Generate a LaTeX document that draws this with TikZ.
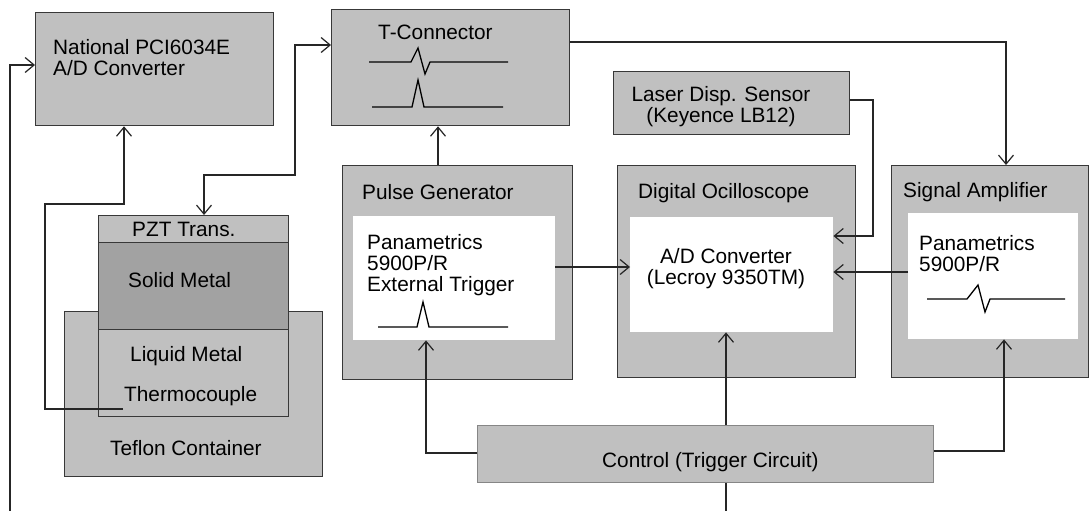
\documentclass[tikz,border=0pt]{standalone}
\usepackage{fontspec}
\setmainfont{Liberation Sans}
\usetikzlibrary{arrows.meta}
\definecolor{boxg}{HTML}{C0C0C0}
\definecolor{darkg}{HTML}{A2A2A2}
\definecolor{edgeg}{HTML}{383838}
\definecolor{lineg}{HTML}{262626}
\tikzset{
  box/.style={draw=edgeg, line width=1.3pt, fill=boxg, inner sep=0pt, anchor=north west},
  inbox/.style={fill=white, draw=none, inner sep=0pt, anchor=north west},
  txt/.style={inner sep=0pt, anchor=north west, align=left, font=\fontsize{20.8}{21}\selectfont},
  ctxt/.style={inner sep=0pt, anchor=north, align=center, font=\fontsize{20.8}{21}\selectfont},
  conn/.style={draw=lineg, line width=1.2pt, arrows={-Straight Barb[length=9pt,width=15pt,line width=1.2pt]}},
  plain/.style={draw=lineg, line width=1.2pt},
  wave/.style={draw=black, line width=1.3pt, line join=miter}
}
\begin{document}
\begin{tikzpicture}[x=1pt,y=-1pt]
\useasboundingbox[fill=white] (0,0) rectangle (1089,511);
% boxes
\node[box, minimum width=238pt, minimum height=113pt] (nat) at (35,12) {};
\node[box, minimum width=238pt, minimum height=116pt] (tcon) at (331,9) {};
\node[box, minimum width=236pt, minimum height=63pt] (laser) at (613,71) {};
\node[box, minimum width=230pt, minimum height=214pt] (pg) at (342,165) {};
\node[inbox, minimum width=202pt, minimum height=124pt] (pgin) at (353,216) {};
\node[box, minimum width=238pt, minimum height=212pt] (osc) at (617,165) {};
\node[inbox, minimum width=203pt, minimum height=115pt] (oscin) at (630,217) {};
\node[box, minimum width=197pt, minimum height=212pt] (amp) at (891,165) {};
\node[inbox, minimum width=170pt, minimum height=126pt] (ampin) at (908,213) {};
\node[box, draw=boxg!70!black, line width=0.8pt, minimum width=456pt, minimum height=57pt] (ctrl) at (477,425) {};
\node[box, minimum width=258pt, minimum height=165pt] (tef) at (64,311) {};
\node[box, minimum width=190pt, minimum height=27pt] (pzt) at (98,215) {};
\node[box, fill=darkg, minimum width=190pt, minimum height=87pt] (solid) at (98,242) {};
\node[box, minimum width=190pt, minimum height=87pt] (liq) at (98,329) {};
% texts
\node[txt] (tnat) at (53,39) {National PCI6034E\\A/D Converter};
\node[txt] (ttcon) at (378,25) {T-Connector};
\node[ctxt] (tlaser) at (721,86) {Laser Disp. Sensor\\(Keyence LB12)};
\node[txt] (tpg) at (362,184) {Pulse Generator};
\node[txt] (tpgin) at (367,234) {Panametrics\\5900P/R\\External Trigger};
\node[txt] (tosc) at (638,183) {Digital Ocilloscope};
\node[ctxt] (toscin) at (726,248) {A/D Converter\\(Lecroy 9350TM)};
\node[txt] (tamp) at (903,182) {Signal Amplifier};
\node[txt] (tampin) at (919,235) {Panametrics\\5900P/R};
\node[txt] (tctrl) at (602,452) {Control (Trigger Circuit)};
\node[txt] (tpzt) at (132,222) {PZT Trans.};
\node[txt] (tsolid) at (128,272) {Solid Metal};
\node[txt] (tliq) at (130,346) {Liquid Metal};
\node[txt] (ttc) at (124,386) {Thermocouple};
\node[txt] (ttef) at (110,440) {Teflon Container};
% waveforms
\draw[wave] (369,62) -- (411,62) -- (418,48) -- (425,74) -- (430,62) -- (508,62);
\draw[wave] (372,107) -- (412,107) -- (418,80) -- (424,107) -- (503,107);
\draw[wave] (378,327) -- (417,327) -- (423,302) -- (429,327) -- (508,327);
\draw[wave] (927,299) -- (967,299) -- (978,285) -- (985,312) -- (990,299) -- (1065,299);
% connectors
\coordinate (leftin) at (10,511);
\coordinate (thermo) at (123,409);
\coordinate (ctrlout) at (726,511);
\draw[conn] (leftin) |- (nat.west |- 0,65);
\draw[conn] (thermo) -- (45,409) -- (45,204) -- (124,204) -- (nat.south -| 124,0);
\draw[conn, arrows={Straight Barb[length=9pt,width=15pt,line width=1.2pt]-Straight Barb[length=9pt,width=15pt,line width=1.2pt]}]
  (pzt.north -| 204,0) -- (204,175) -- (295,175) -- (295,45) -- (tcon.west |- 0,45);
\draw[conn] (tcon.east |- 0,42) -| (amp.north -| 1006,0);
\draw[conn] (pg.north -| 438,0) -- (tcon.south -| 438,0);
\draw[conn] (laser.east |- 0,100) -- (873,100) -- (873,236) -- (oscin.east |- 0,236);
\draw[conn] (pgin.east |- 0,267) -- (oscin.west |- 0,267);
\draw[conn] (ampin.west |- 0,272) -- (oscin.east |- 0,272);
\draw[conn] (ctrl.west |- 0,453) -| (pgin.south -| 426,0);
\draw[conn] (ctrl.north -| 726,0) -- (oscin.south -| 726,0);
\draw[conn] (ctrl.east |- 0,451) -| (ampin.south -| 1004,0);
\draw[plain] (ctrl.south -| 726,0) -- (ctrlout);
\end{tikzpicture}
\end{document}
